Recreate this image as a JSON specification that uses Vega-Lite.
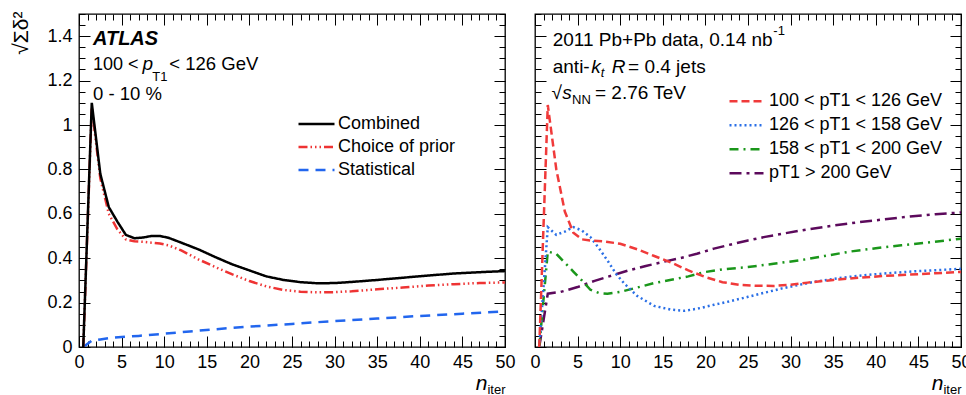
{
  "$schema": "https://vega.github.io/schema/vega-lite/v6.json",
  "padding": {"left": 9, "top": 10, "right": 0, "bottom": 0},
  "bounds": "flush",
  "spacing": 30,
  "resolve": {"scale": {"color": "independent", "strokeDash": "independent"}},
  "config": {
    "view": {"stroke": "black", "strokeWidth": 1.3},
    "font": "Liberation Sans",
    "axis": {"domain": false, "grid": false, "labelFont": "Liberation Sans", "labelFontSize": 18, "labelColor": "black", "tickColor": "black", "tickWidth": 1, "titleFont": "Liberation Sans", "titleColor": "black", "titleFontWeight": "normal"}
  },
  "datasets": {
    "left": [
      {"s": "Statistical", "n": 0.5, "v": 0}, {"s": "Statistical", "n": 1.5, "v": 0.028}, {"s": "Statistical", "n": 2.5, "v": 0.034}, {"s": "Statistical", "n": 3.5, "v": 0.04}, {"s": "Statistical", "n": 5, "v": 0.045}, {"s": "Statistical", "n": 7, "v": 0.05}, {"s": "Statistical", "n": 10, "v": 0.06}, {"s": "Statistical", "n": 13, "v": 0.07}, {"s": "Statistical", "n": 16, "v": 0.08}, {"s": "Statistical", "n": 20, "v": 0.092}, {"s": "Statistical", "n": 25, "v": 0.104}, {"s": "Statistical", "n": 30, "v": 0.117}, {"s": "Statistical", "n": 35, "v": 0.128}, {"s": "Statistical", "n": 40, "v": 0.14}, {"s": "Statistical", "n": 45, "v": 0.15}, {"s": "Statistical", "n": 50, "v": 0.16},
      {"s": "Choice of prior", "n": 0.5, "v": 0}, {"s": "Choice of prior", "n": 1.5, "v": 1.08}, {"s": "Choice of prior", "n": 2.5, "v": 0.76}, {"s": "Choice of prior", "n": 3.5, "v": 0.6}, {"s": "Choice of prior", "n": 4.5, "v": 0.53}, {"s": "Choice of prior", "n": 5.5, "v": 0.485}, {"s": "Choice of prior", "n": 6.5, "v": 0.476}, {"s": "Choice of prior", "n": 7.5, "v": 0.474}, {"s": "Choice of prior", "n": 8.5, "v": 0.47}, {"s": "Choice of prior", "n": 9.5, "v": 0.466}, {"s": "Choice of prior", "n": 10.5, "v": 0.458}, {"s": "Choice of prior", "n": 12, "v": 0.435}, {"s": "Choice of prior", "n": 14, "v": 0.395}, {"s": "Choice of prior", "n": 16, "v": 0.36}, {"s": "Choice of prior", "n": 18, "v": 0.327}, {"s": "Choice of prior", "n": 20, "v": 0.297}, {"s": "Choice of prior", "n": 22, "v": 0.273}, {"s": "Choice of prior", "n": 24, "v": 0.257}, {"s": "Choice of prior", "n": 26, "v": 0.249}, {"s": "Choice of prior", "n": 28, "v": 0.246}, {"s": "Choice of prior", "n": 30, "v": 0.247}, {"s": "Choice of prior", "n": 32, "v": 0.251}, {"s": "Choice of prior", "n": 35, "v": 0.26}, {"s": "Choice of prior", "n": 38, "v": 0.268}, {"s": "Choice of prior", "n": 41, "v": 0.277}, {"s": "Choice of prior", "n": 44, "v": 0.283}, {"s": "Choice of prior", "n": 47, "v": 0.288}, {"s": "Choice of prior", "n": 50, "v": 0.291},
      {"s": "Combined", "n": 0.5, "v": 0}, {"s": "Combined", "n": 1.5, "v": 1.1}, {"s": "Combined", "n": 2.5, "v": 0.78}, {"s": "Combined", "n": 3.5, "v": 0.63}, {"s": "Combined", "n": 4.5, "v": 0.565}, {"s": "Combined", "n": 5.5, "v": 0.505}, {"s": "Combined", "n": 6.5, "v": 0.49}, {"s": "Combined", "n": 7.5, "v": 0.493}, {"s": "Combined", "n": 8.5, "v": 0.5}, {"s": "Combined", "n": 9.5, "v": 0.5}, {"s": "Combined", "n": 10.5, "v": 0.492}, {"s": "Combined", "n": 12, "v": 0.47}, {"s": "Combined", "n": 14, "v": 0.44}, {"s": "Combined", "n": 16, "v": 0.405}, {"s": "Combined", "n": 18, "v": 0.372}, {"s": "Combined", "n": 20, "v": 0.345}, {"s": "Combined", "n": 22, "v": 0.318}, {"s": "Combined", "n": 24, "v": 0.302}, {"s": "Combined", "n": 26, "v": 0.292}, {"s": "Combined", "n": 28, "v": 0.287}, {"s": "Combined", "n": 30, "v": 0.288}, {"s": "Combined", "n": 32, "v": 0.293}, {"s": "Combined", "n": 35, "v": 0.302}, {"s": "Combined", "n": 38, "v": 0.312}, {"s": "Combined", "n": 41, "v": 0.322}, {"s": "Combined", "n": 44, "v": 0.331}, {"s": "Combined", "n": 47, "v": 0.337}, {"s": "Combined", "n": 50, "v": 0.342}
    ],
    "right": [
      {"s": "pT1 > 200 GeV", "n": 0.5, "v": 0}, {"s": "pT1 > 200 GeV", "n": 1.5, "v": 0.24}, {"s": "pT1 > 200 GeV", "n": 3, "v": 0.248}, {"s": "pT1 > 200 GeV", "n": 5, "v": 0.27}, {"s": "pT1 > 200 GeV", "n": 7, "v": 0.298}, {"s": "pT1 > 200 GeV", "n": 9, "v": 0.322}, {"s": "pT1 > 200 GeV", "n": 11, "v": 0.345}, {"s": "pT1 > 200 GeV", "n": 13, "v": 0.365}, {"s": "pT1 > 200 GeV", "n": 15, "v": 0.383}, {"s": "pT1 > 200 GeV", "n": 17, "v": 0.4}, {"s": "pT1 > 200 GeV", "n": 19, "v": 0.42}, {"s": "pT1 > 200 GeV", "n": 21, "v": 0.443}, {"s": "pT1 > 200 GeV", "n": 23, "v": 0.462}, {"s": "pT1 > 200 GeV", "n": 25, "v": 0.48}, {"s": "pT1 > 200 GeV", "n": 27, "v": 0.496}, {"s": "pT1 > 200 GeV", "n": 29, "v": 0.51}, {"s": "pT1 > 200 GeV", "n": 32, "v": 0.53}, {"s": "pT1 > 200 GeV", "n": 35, "v": 0.547}, {"s": "pT1 > 200 GeV", "n": 38, "v": 0.562}, {"s": "pT1 > 200 GeV", "n": 41, "v": 0.575}, {"s": "pT1 > 200 GeV", "n": 44, "v": 0.588}, {"s": "pT1 > 200 GeV", "n": 47, "v": 0.598}, {"s": "pT1 > 200 GeV", "n": 50, "v": 0.606},
      {"s": "158 < pT1 < 200 GeV", "n": 0.5, "v": 0}, {"s": "158 < pT1 < 200 GeV", "n": 1.5, "v": 0.43}, {"s": "158 < pT1 < 200 GeV", "n": 2.5, "v": 0.42}, {"s": "158 < pT1 < 200 GeV", "n": 3.5, "v": 0.38}, {"s": "158 < pT1 < 200 GeV", "n": 4.5, "v": 0.34}, {"s": "158 < pT1 < 200 GeV", "n": 5.5, "v": 0.3}, {"s": "158 < pT1 < 200 GeV", "n": 6.5, "v": 0.258}, {"s": "158 < pT1 < 200 GeV", "n": 7.5, "v": 0.243}, {"s": "158 < pT1 < 200 GeV", "n": 8.5, "v": 0.24}, {"s": "158 < pT1 < 200 GeV", "n": 10, "v": 0.248}, {"s": "158 < pT1 < 200 GeV", "n": 12, "v": 0.268}, {"s": "158 < pT1 < 200 GeV", "n": 14, "v": 0.288}, {"s": "158 < pT1 < 200 GeV", "n": 16, "v": 0.303}, {"s": "158 < pT1 < 200 GeV", "n": 18, "v": 0.318}, {"s": "158 < pT1 < 200 GeV", "n": 20, "v": 0.338}, {"s": "158 < pT1 < 200 GeV", "n": 22, "v": 0.35}, {"s": "158 < pT1 < 200 GeV", "n": 25, "v": 0.36}, {"s": "158 < pT1 < 200 GeV", "n": 28, "v": 0.375}, {"s": "158 < pT1 < 200 GeV", "n": 31, "v": 0.39}, {"s": "158 < pT1 < 200 GeV", "n": 34, "v": 0.41}, {"s": "158 < pT1 < 200 GeV", "n": 37, "v": 0.43}, {"s": "158 < pT1 < 200 GeV", "n": 40, "v": 0.445}, {"s": "158 < pT1 < 200 GeV", "n": 43, "v": 0.458}, {"s": "158 < pT1 < 200 GeV", "n": 46, "v": 0.47}, {"s": "158 < pT1 < 200 GeV", "n": 50, "v": 0.488},
      {"s": "126 < pT1 < 158 GeV", "n": 0.5, "v": 0}, {"s": "126 < pT1 < 158 GeV", "n": 1.5, "v": 0.54}, {"s": "126 < pT1 < 158 GeV", "n": 2.5, "v": 0.505}, {"s": "126 < pT1 < 158 GeV", "n": 3.5, "v": 0.52}, {"s": "126 < pT1 < 158 GeV", "n": 4.5, "v": 0.54}, {"s": "126 < pT1 < 158 GeV", "n": 5.5, "v": 0.525}, {"s": "126 < pT1 < 158 GeV", "n": 6.5, "v": 0.495}, {"s": "126 < pT1 < 158 GeV", "n": 7.5, "v": 0.445}, {"s": "126 < pT1 < 158 GeV", "n": 8.5, "v": 0.39}, {"s": "126 < pT1 < 158 GeV", "n": 9.5, "v": 0.33}, {"s": "126 < pT1 < 158 GeV", "n": 10.5, "v": 0.285}, {"s": "126 < pT1 < 158 GeV", "n": 12, "v": 0.23}, {"s": "126 < pT1 < 158 GeV", "n": 14, "v": 0.185}, {"s": "126 < pT1 < 158 GeV", "n": 16, "v": 0.168}, {"s": "126 < pT1 < 158 GeV", "n": 17.5, "v": 0.163}, {"s": "126 < pT1 < 158 GeV", "n": 19, "v": 0.172}, {"s": "126 < pT1 < 158 GeV", "n": 21, "v": 0.19}, {"s": "126 < pT1 < 158 GeV", "n": 23, "v": 0.207}, {"s": "126 < pT1 < 158 GeV", "n": 25, "v": 0.226}, {"s": "126 < pT1 < 158 GeV", "n": 27, "v": 0.245}, {"s": "126 < pT1 < 158 GeV", "n": 29, "v": 0.264}, {"s": "126 < pT1 < 158 GeV", "n": 31, "v": 0.28}, {"s": "126 < pT1 < 158 GeV", "n": 33, "v": 0.295}, {"s": "126 < pT1 < 158 GeV", "n": 36, "v": 0.312}, {"s": "126 < pT1 < 158 GeV", "n": 39, "v": 0.325}, {"s": "126 < pT1 < 158 GeV", "n": 42, "v": 0.334}, {"s": "126 < pT1 < 158 GeV", "n": 45, "v": 0.342}, {"s": "126 < pT1 < 158 GeV", "n": 48, "v": 0.348}, {"s": "126 < pT1 < 158 GeV", "n": 50, "v": 0.352},
      {"s": "100 < pT1 < 126 GeV", "n": 0.5, "v": 0}, {"s": "100 < pT1 < 126 GeV", "n": 1.5, "v": 1.09}, {"s": "100 < pT1 < 126 GeV", "n": 2.5, "v": 0.8}, {"s": "100 < pT1 < 126 GeV", "n": 3.5, "v": 0.61}, {"s": "100 < pT1 < 126 GeV", "n": 4.5, "v": 0.515}, {"s": "100 < pT1 < 126 GeV", "n": 5.5, "v": 0.485}, {"s": "100 < pT1 < 126 GeV", "n": 6.5, "v": 0.48}, {"s": "100 < pT1 < 126 GeV", "n": 8, "v": 0.476}, {"s": "100 < pT1 < 126 GeV", "n": 10, "v": 0.465}, {"s": "100 < pT1 < 126 GeV", "n": 12, "v": 0.44}, {"s": "100 < pT1 < 126 GeV", "n": 14, "v": 0.41}, {"s": "100 < pT1 < 126 GeV", "n": 16, "v": 0.38}, {"s": "100 < pT1 < 126 GeV", "n": 18, "v": 0.345}, {"s": "100 < pT1 < 126 GeV", "n": 20, "v": 0.315}, {"s": "100 < pT1 < 126 GeV", "n": 22, "v": 0.292}, {"s": "100 < pT1 < 126 GeV", "n": 24, "v": 0.28}, {"s": "100 < pT1 < 126 GeV", "n": 26, "v": 0.276}, {"s": "100 < pT1 < 126 GeV", "n": 28, "v": 0.275}, {"s": "100 < pT1 < 126 GeV", "n": 30, "v": 0.28}, {"s": "100 < pT1 < 126 GeV", "n": 32, "v": 0.29}, {"s": "100 < pT1 < 126 GeV", "n": 35, "v": 0.302}, {"s": "100 < pT1 < 126 GeV", "n": 38, "v": 0.312}, {"s": "100 < pT1 < 126 GeV", "n": 41, "v": 0.32}, {"s": "100 < pT1 < 126 GeV", "n": 44, "v": 0.326}, {"s": "100 < pT1 < 126 GeV", "n": 47, "v": 0.332}, {"s": "100 < pT1 < 126 GeV", "n": 50, "v": 0.338}
    ]
  },
  "hconcat": [
    {
      "width": 426,
      "height": 333,
      "data": {"name": "left"},
      "resolve": {"axis": {"x": "independent", "y": "independent"}},
      "layer": [
        {
          "mark": {"type": "line", "strokeWidth": 2.5, "clip": true},
          "encoding": {
            "x": {"field": "n", "type": "quantitative", "scale": {"domain": [0, 50], "nice": false, "zero": false},
              "axis": {"orient": "bottom", "values": [0, 5, 10, 15, 20, 25, 30, 35, 40, 45, 50], "ticks": false, "labelPadding": 6, "labelFlush": false, "labelOverlap": false, "format": "~g", "title": "n", "titleFontStyle": "italic", "titleFontSize": 21, "titleAnchor": "end", "titleAlign": "right", "titleBaseline": "alphabetic", "titleX": 408, "titleY": 42}},
            "y": {"field": "v", "type": "quantitative", "scale": {"domain": [0, 1.5], "nice": false},
              "axis": {"orient": "left", "values": [0, 0.2, 0.4, 0.6, 0.8, 1, 1.2, 1.4], "ticks": false, "labelPadding": 7, "labelFlush": false, "labelOverlap": false, "format": "~g", "title": "√Σδ²", "titleFontSize": 21, "titleAngle": -90, "titleAnchor": "end", "titleAlign": "right", "titleBaseline": "alphabetic", "titleX": -52, "titleY": -3}},
            "color": {"field": "s", "type": "nominal",
              "scale": {"domain": ["Combined", "Choice of prior", "Statistical"], "range": ["#000000", "#ee3333", "#2266ee"]},
              "legend": {"orient": "none", "legendX": 218, "legendY": 98.5, "title": null, "symbolType": "stroke", "symbolSize": 1296, "symbolStrokeWidth": 2.5, "labelFontSize": 18, "labelFont": "Liberation Sans", "labelColor": "black", "labelLimit": 0, "clipHeight": 23, "rowPadding": 0, "labelOffset": 2, "padding": 0}},
            "strokeDash": {"field": "s", "type": "nominal",
              "scale": {"domain": ["Combined", "Choice of prior", "Statistical"], "range": [[1, 0], [9, 3, 1.5, 3, 1.5, 3, 1.5, 3], [10, 7]]},
              "legend": {"orient": "none", "legendX": 218, "legendY": 98.5, "title": null, "symbolType": "stroke", "symbolSize": 1296, "symbolStrokeWidth": 2.5, "labelFontSize": 18, "labelFont": "Liberation Sans", "labelColor": "black", "labelLimit": 0, "clipHeight": 23, "rowPadding": 0, "labelOffset": 2, "padding": 0}}
          }
        },
        {
          "mark": {"type": "point", "opacity": 0},
          "encoding": {
            "x": {"field": "n", "type": "quantitative", "axis": {"orient": "bottom", "values": [0, 5, 10, 15, 20, 25, 30, 35, 40, 45, 50], "labels": false, "tickSize": -11, "title": "iter", "titleFontSize": 13, "titleAnchor": "end", "titleAlign": "right", "titleBaseline": "alphabetic", "titleX": 426, "titleY": 46}},
            "y": {"field": "v", "type": "quantitative", "axis": {"orient": "left", "values": [0, 0.2, 0.4, 0.6, 0.8, 1, 1.2, 1.4], "labels": false, "tickSize": -11, "title": null}}
          }
        },
        {
          "mark": {"type": "point", "opacity": 0},
          "encoding": {
            "x": {"field": "n", "type": "quantitative", "axis": {"orient": "bottom", "values": [0,1,2,3,4,5,6,7,8,9,10,11,12,13,14,15,16,17,18,19,20,21,22,23,24,25,26,27,28,29,30,31,32,33,34,35,36,37,38,39,40,41,42,43,44,45,46,47,48,49,50], "labels": false, "tickSize": -6, "title": null}},
            "y": {"field": "v", "type": "quantitative", "axis": {"orient": "left", "values": [0,0.05,0.1,0.15,0.2,0.25,0.3,0.35,0.4,0.45,0.5,0.55,0.6,0.65,0.7,0.75,0.8,0.85,0.9,0.95,1,1.05,1.1,1.15,1.2,1.25,1.3,1.35,1.4,1.45,1.5], "labels": false, "tickSize": -6, "title": null}}
          }
        },
        {
          "mark": {"type": "point", "opacity": 0},
          "encoding": {
            "x": {"field": "n", "type": "quantitative", "axis": {"orient": "top", "values": [0, 5, 10, 15, 20, 25, 30, 35, 40, 45, 50], "labels": false, "tickSize": -11, "title": null}},
            "y": {"field": "v", "type": "quantitative", "axis": {"orient": "right", "values": [0, 0.2, 0.4, 0.6, 0.8, 1, 1.2, 1.4], "labels": false, "tickSize": -11, "title": null}}
          }
        },
        {
          "mark": {"type": "point", "opacity": 0},
          "encoding": {
            "x": {"field": "n", "type": "quantitative", "axis": {"orient": "top", "values": [0,1,2,3,4,5,6,7,8,9,10,11,12,13,14,15,16,17,18,19,20,21,22,23,24,25,26,27,28,29,30,31,32,33,34,35,36,37,38,39,40,41,42,43,44,45,46,47,48,49,50], "labels": false, "tickSize": -6, "title": null}},
            "y": {"field": "v", "type": "quantitative", "axis": {"orient": "right", "values": [0,0.05,0.1,0.15,0.2,0.25,0.3,0.35,0.4,0.45,0.5,0.55,0.6,0.65,0.7,0.75,0.8,0.85,0.9,0.95,1,1.05,1.1,1.15,1.2,1.25,1.3,1.35,1.4,1.45,1.5], "labels": false, "tickSize": -6, "title": null}}
          }
        },
        {"data": {"values": [{}]}, "mark": {"type": "text", "text": "ATLAS", "font": "Liberation Sans", "fontSize": 20, "fontWeight": "bold", "fontStyle": "italic", "align": "left", "baseline": "alphabetic", "color": "black"},
          "encoding": {"x": {"datum": 1.64, "type": "quantitative", "axis": null}, "y": {"datum": 1.36, "type": "quantitative", "axis": null}}},
        {"data": {"values": [{}]}, "mark": {"type": "text", "text": "100 <", "font": "Liberation Sans", "fontSize": 18, "align": "left", "baseline": "alphabetic", "color": "black"},
          "encoding": {"x": {"datum": 1.64, "type": "quantitative", "axis": null}, "y": {"datum": 1.248, "type": "quantitative", "axis": null}}},
        {"data": {"values": [{}]}, "mark": {"type": "text", "text": "p", "font": "Liberation Sans", "fontSize": 19, "fontStyle": "italic", "align": "left", "baseline": "alphabetic", "color": "black"},
          "encoding": {"x": {"datum": 7.45, "type": "quantitative", "axis": null}, "y": {"datum": 1.248, "type": "quantitative", "axis": null}}},
        {"data": {"values": [{}]}, "mark": {"type": "text", "text": "T1", "font": "Liberation Sans", "fontSize": 13, "align": "left", "baseline": "alphabetic", "color": "black"},
          "encoding": {"x": {"datum": 8.6, "type": "quantitative", "axis": null}, "y": {"datum": 1.198, "type": "quantitative", "axis": null}}},
        {"data": {"values": [{}]}, "mark": {"type": "text", "text": "< 126 GeV", "font": "Liberation Sans", "fontSize": 18.5, "align": "left", "baseline": "alphabetic", "color": "black"},
          "encoding": {"x": {"datum": 10.6, "type": "quantitative", "axis": null}, "y": {"datum": 1.248, "type": "quantitative", "axis": null}}},
        {"data": {"values": [{}]}, "mark": {"type": "text", "text": "0 - 10 %", "font": "Liberation Sans", "fontSize": 18.5, "align": "left", "baseline": "alphabetic", "color": "black"},
          "encoding": {"x": {"datum": 1.64, "type": "quantitative", "axis": null}, "y": {"datum": 1.113, "type": "quantitative", "axis": null}}}
      ]
    },
    {
      "width": 426,
      "height": 333,
      "data": {"name": "right"},
      "resolve": {"axis": {"x": "independent", "y": "independent"}},
      "layer": [
        {
          "mark": {"type": "line", "strokeWidth": 2.5, "clip": true},
          "encoding": {
            "x": {"field": "n", "type": "quantitative", "scale": {"domain": [0, 50], "nice": false, "zero": false},
              "axis": {"orient": "bottom", "values": [0, 5, 10, 15, 20, 25, 30, 35, 40, 45, 50], "ticks": false, "labelPadding": 6, "labelFlush": false, "labelOverlap": false, "format": "~g", "title": "n", "titleFontStyle": "italic", "titleFontSize": 21, "titleAnchor": "end", "titleAlign": "right", "titleBaseline": "alphabetic", "titleX": 408, "titleY": 42}},
            "y": {"field": "v", "type": "quantitative", "scale": {"domain": [0, 1.5], "nice": false},
              "axis": {"orient": "left", "values": [0, 0.2, 0.4, 0.6, 0.8, 1, 1.2, 1.4], "labels": false, "tickSize": -11, "title": null}},
            "color": {"field": "s", "type": "nominal",
              "scale": {"domain": ["100 < pT1 < 126 GeV", "126 < pT1 < 158 GeV", "158 < pT1 < 200 GeV", "pT1 > 200 GeV"], "range": ["#f03a3a", "#2a6fe6", "#1a961a", "#5c0a5c"]},
              "legend": {"orient": "none", "legendX": 193, "legendY": 75.5, "title": null, "symbolType": "stroke", "symbolSize": 1156, "symbolStrokeWidth": 2.5, "labelFontSize": 18, "labelFont": "Liberation Sans", "labelColor": "black", "labelLimit": 0, "clipHeight": 23.3, "rowPadding": 0, "labelOffset": 4, "padding": 0}},
            "strokeDash": {"field": "s", "type": "nominal",
              "scale": {"domain": ["100 < pT1 < 126 GeV", "126 < pT1 < 158 GeV", "158 < pT1 < 200 GeV", "pT1 > 200 GeV"], "range": [[8, 4], [2, 3], [9, 5, 2, 5], [12, 5, 3, 5]]},
              "legend": {"orient": "none", "legendX": 193, "legendY": 75.5, "title": null, "symbolType": "stroke", "symbolSize": 1156, "symbolStrokeWidth": 2.5, "labelFontSize": 18, "labelFont": "Liberation Sans", "labelColor": "black", "labelLimit": 0, "clipHeight": 23.3, "rowPadding": 0, "labelOffset": 4, "padding": 0}}
          }
        },
        {
          "mark": {"type": "point", "opacity": 0},
          "encoding": {
            "x": {"field": "n", "type": "quantitative", "axis": {"orient": "bottom", "values": [0, 5, 10, 15, 20, 25, 30, 35, 40, 45, 50], "labels": false, "tickSize": -11, "title": "iter", "titleFontSize": 13, "titleAnchor": "end", "titleAlign": "right", "titleBaseline": "alphabetic", "titleX": 426, "titleY": 46}},
            "y": {"field": "v", "type": "quantitative", "axis": {"orient": "left", "values": [0,0.05,0.1,0.15,0.2,0.25,0.3,0.35,0.4,0.45,0.5,0.55,0.6,0.65,0.7,0.75,0.8,0.85,0.9,0.95,1,1.05,1.1,1.15,1.2,1.25,1.3,1.35,1.4,1.45,1.5], "labels": false, "tickSize": -6, "title": null}}
          }
        },
        {
          "mark": {"type": "point", "opacity": 0},
          "encoding": {
            "x": {"field": "n", "type": "quantitative", "axis": {"orient": "bottom", "values": [0,1,2,3,4,5,6,7,8,9,10,11,12,13,14,15,16,17,18,19,20,21,22,23,24,25,26,27,28,29,30,31,32,33,34,35,36,37,38,39,40,41,42,43,44,45,46,47,48,49,50], "labels": false, "tickSize": -6, "title": null}},
            "y": {"field": "v", "type": "quantitative", "axis": {"orient": "right", "values": [0, 0.2, 0.4, 0.6, 0.8, 1, 1.2, 1.4], "labels": false, "tickSize": -11, "title": null}}
          }
        },
        {
          "mark": {"type": "point", "opacity": 0},
          "encoding": {
            "x": {"field": "n", "type": "quantitative", "axis": {"orient": "top", "values": [0, 5, 10, 15, 20, 25, 30, 35, 40, 45, 50], "labels": false, "tickSize": -11, "title": null}},
            "y": {"field": "v", "type": "quantitative", "axis": {"orient": "right", "values": [0,0.05,0.1,0.15,0.2,0.25,0.3,0.35,0.4,0.45,0.5,0.55,0.6,0.65,0.7,0.75,0.8,0.85,0.9,0.95,1,1.05,1.1,1.15,1.2,1.25,1.3,1.35,1.4,1.45,1.5], "labels": false, "tickSize": -6, "title": null}}
          }
        },
        {
          "mark": {"type": "point", "opacity": 0},
          "encoding": {
            "x": {"field": "n", "type": "quantitative", "axis": {"orient": "top", "values": [0,1,2,3,4,5,6,7,8,9,10,11,12,13,14,15,16,17,18,19,20,21,22,23,24,25,26,27,28,29,30,31,32,33,34,35,36,37,38,39,40,41,42,43,44,45,46,47,48,49,50], "labels": false, "tickSize": -6, "title": null}},
            "y": {"field": "v", "type": "quantitative", "axis": null}
          }
        },
        {"data": {"values": [{}]}, "mark": {"type": "text", "text": "2011 Pb+Pb data, 0.14 nb", "font": "Liberation Sans", "fontSize": 19, "align": "left", "baseline": "alphabetic", "color": "black"},
          "encoding": {"x": {"datum": 2.08, "type": "quantitative", "axis": null}, "y": {"datum": 1.356, "type": "quantitative", "axis": null}}},
        {"data": {"values": [{}]}, "mark": {"type": "text", "text": "-1", "font": "Liberation Sans", "fontSize": 13, "align": "left", "baseline": "alphabetic", "color": "black"},
          "encoding": {"x": {"datum": 27.97, "type": "quantitative", "axis": null}, "y": {"datum": 1.404, "type": "quantitative", "axis": null}}},
        {"data": {"values": [{}]}, "mark": {"type": "text", "text": "anti-", "font": "Liberation Sans", "fontSize": 19, "align": "left", "baseline": "alphabetic", "color": "black"},
          "encoding": {"x": {"datum": 2.08, "type": "quantitative", "axis": null}, "y": {"datum": 1.236, "type": "quantitative", "axis": null}}},
        {"data": {"values": [{}]}, "mark": {"type": "text", "text": "k", "font": "Liberation Sans", "fontSize": 19, "fontStyle": "italic", "align": "left", "baseline": "alphabetic", "color": "black"},
          "encoding": {"x": {"datum": 6.6, "type": "quantitative", "axis": null}, "y": {"datum": 1.236, "type": "quantitative", "axis": null}}},
        {"data": {"values": [{}]}, "mark": {"type": "text", "text": "t", "font": "Liberation Sans", "fontSize": 13, "fontStyle": "italic", "align": "left", "baseline": "alphabetic", "color": "black"},
          "encoding": {"x": {"datum": 7.71, "type": "quantitative", "axis": null}, "y": {"datum": 1.216, "type": "quantitative", "axis": null}}},
        {"data": {"values": [{}]}, "mark": {"type": "text", "text": "R", "font": "Liberation Sans", "fontSize": 19, "fontStyle": "italic", "align": "left", "baseline": "alphabetic", "color": "black"},
          "encoding": {"x": {"datum": 9.0, "type": "quantitative", "axis": null}, "y": {"datum": 1.236, "type": "quantitative", "axis": null}}},
        {"data": {"values": [{}]}, "mark": {"type": "text", "text": "= 0.4 jets", "font": "Liberation Sans", "fontSize": 19, "align": "left", "baseline": "alphabetic", "color": "black"},
          "encoding": {"x": {"datum": 10.92, "type": "quantitative", "axis": null}, "y": {"datum": 1.236, "type": "quantitative", "axis": null}}},
        {"data": {"values": [{}]}, "mark": {"type": "text", "text": "√", "font": "Liberation Sans", "fontSize": 19, "align": "left", "baseline": "alphabetic", "color": "black"},
          "encoding": {"x": {"datum": 1.95, "type": "quantitative", "axis": null}, "y": {"datum": 1.118, "type": "quantitative", "axis": null}}},
        {"data": {"values": [{}]}, "mark": {"type": "text", "text": "s", "font": "Liberation Sans", "fontSize": 19, "fontStyle": "italic", "align": "left", "baseline": "alphabetic", "color": "black"},
          "encoding": {"x": {"datum": 3.2, "type": "quantitative", "axis": null}, "y": {"datum": 1.118, "type": "quantitative", "axis": null}}},
        {"data": {"values": [{}]}, "mark": {"type": "text", "text": "NN", "font": "Liberation Sans", "fontSize": 13, "align": "left", "baseline": "alphabetic", "color": "black"},
          "encoding": {"x": {"datum": 4.35, "type": "quantitative", "axis": null}, "y": {"datum": 1.096, "type": "quantitative", "axis": null}}},
        {"data": {"values": [{}]}, "mark": {"type": "text", "text": "= 2.76 TeV", "font": "Liberation Sans", "fontSize": 19, "align": "left", "baseline": "alphabetic", "color": "black"},
          "encoding": {"x": {"datum": 7.04, "type": "quantitative", "axis": null}, "y": {"datum": 1.118, "type": "quantitative", "axis": null}}}
      ]
    }
  ]
}
